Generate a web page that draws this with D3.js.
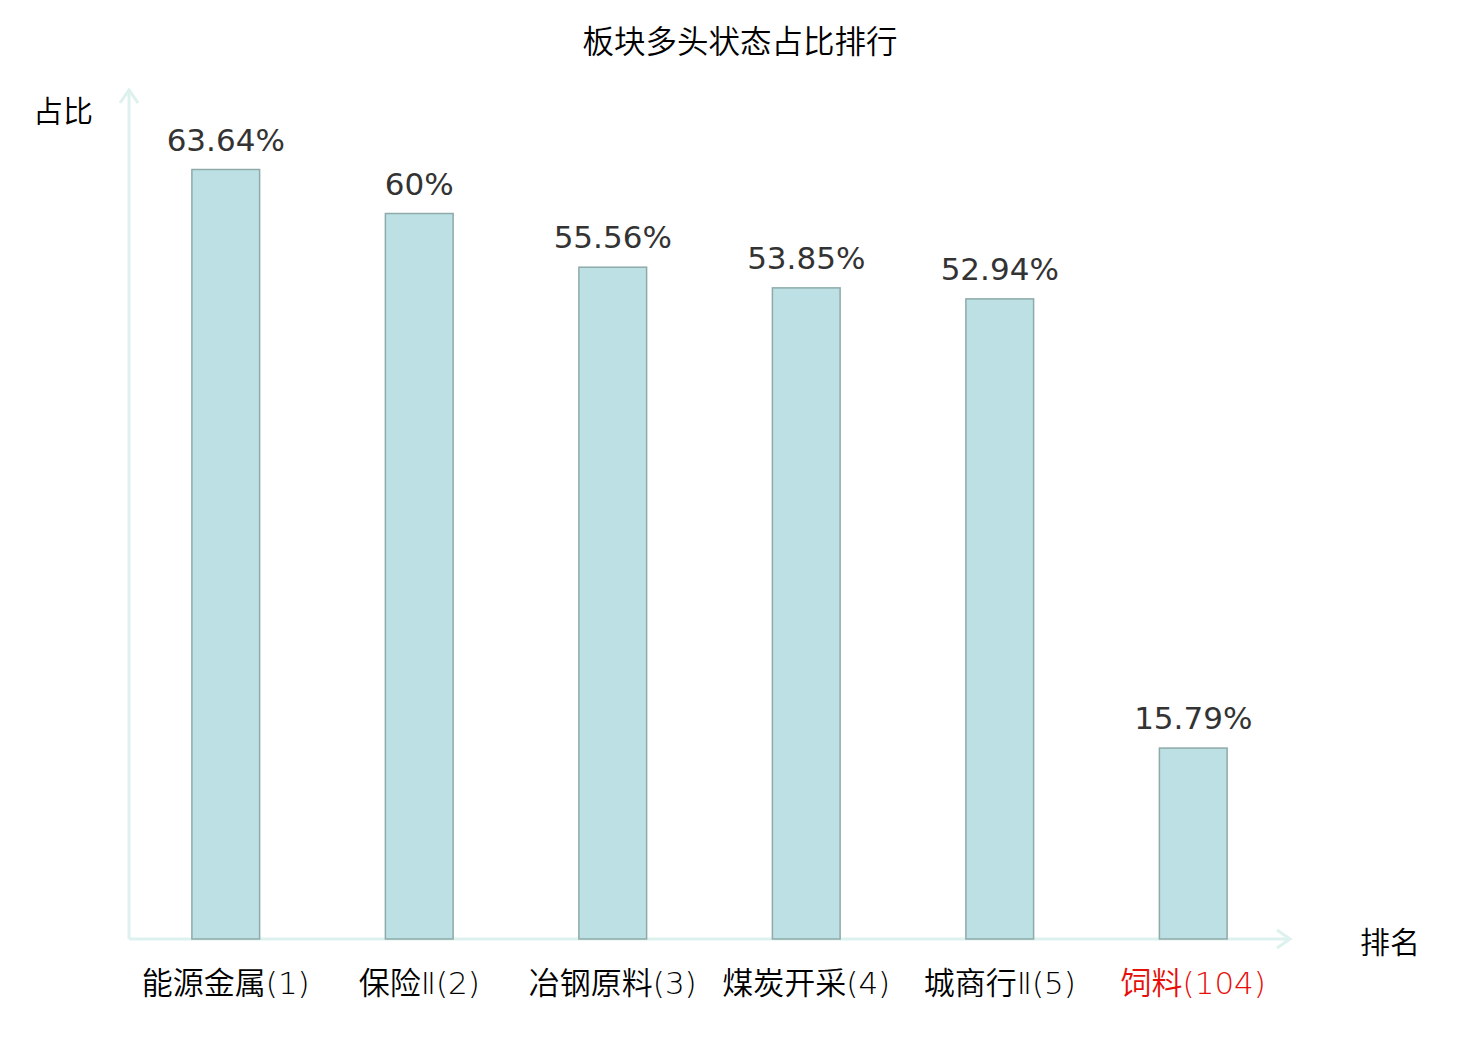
<!DOCTYPE html>
<html>
<head>
<meta charset="utf-8">
<script src="https://cdn.jsdelivr.net/npm/d3@7"></script>
<style>
  body { margin: 0; background: #fff; }
</style>
</head>
<body>
<script>
// 板块数据
var categories = ["能源金属(1)", "保险Ⅱ(2)", "冶钢原料(3)", "煤炭开采(4)", "城商行Ⅱ(5)", "饲料(104)"];
var values = [63.64, 60, 55.56, 53.85, 52.94, 15.79];
var valueLabels = ["63.64%", "60%", "55.56%", "53.85%", "52.94%", "15.79%"];
var highlight = [false, false, false, false, false, true];

var W = 1480, H = 1040;
var x0 = 129, x1 = 1290, yBase = 939;
var cjkWeight = 350;

var svg = d3.select("body").append("svg")
  .attr("width", W)
  .attr("height", H);

var x = d3.scaleBand()
  .domain(categories)
  .range([x0, x1])
  .paddingInner(0.65)
  .paddingOuter(0.325);

var y = d3.scaleLinear()
  .domain([0, 70])
  .range([yBase, 92.6]);

// 제목
svg.append("text")
  .attr("x", 740)
  .attr("y", 53)
  .attr("text-anchor", "middle")
  .attr("font-family", "Noto Sans CJK SC")
  .attr("font-weight", cjkWeight)
  .attr("font-size", "31.5px")
  .attr("fill", "#000")
  .text("板块多头状态占比排行");

// 축 (화살표)
var axisColor = "#ddf1ee";
svg.append("line")
  .attr("x1", x0).attr("y1", yBase)
  .attr("x2", x0).attr("y2", 90)
  .attr("stroke", axisColor).attr("stroke-width", 3);
svg.append("path")
  .attr("d", "M" + (x0 - 9) + "," + 103 + "L" + x0 + "," + 90 + "L" + (x0 + 9) + "," + 103)
  .attr("fill", "none").attr("stroke", axisColor).attr("stroke-width", 3);
svg.append("line")
  .attr("x1", x0).attr("y1", yBase)
  .attr("x2", x1).attr("y2", yBase)
  .attr("stroke", axisColor).attr("stroke-width", 3);
svg.append("path")
  .attr("d", "M" + (x1 - 13) + "," + (yBase - 9) + "L" + x1 + "," + yBase + "L" + (x1 - 13) + "," + (yBase + 9))
  .attr("fill", "none").attr("stroke", axisColor).attr("stroke-width", 3);

svg.append("text")
  .attr("x", 33).attr("y", 122)
  .attr("font-family", "Noto Sans CJK SC")
  .attr("font-weight", cjkWeight)
  .attr("font-size", "30px")
  .attr("fill", "#000")
  .text("占比");

svg.append("text")
  .attr("x", 1360).attr("y", 953)
  .attr("font-family", "Noto Sans CJK SC")
  .attr("font-weight", cjkWeight)
  .attr("font-size", "30px")
  .attr("fill", "#000")
  .text("排名");

// 막대
svg.selectAll("rect.bar")
  .data(values)
  .enter()
  .append("rect")
  .attr("class", "bar")
  .attr("x", function (d, i) { return x(categories[i]); })
  .attr("y", function (d) { return y(d); })
  .attr("width", x.bandwidth())
  .attr("height", function (d) { return yBase - y(d); })
  .attr("fill", "#bce0e3")
  .attr("stroke", "#8eaaa9")
  .attr("stroke-width", 1.5);

// 값 레이블
svg.selectAll("text.val")
  .data(values)
  .enter()
  .append("text")
  .attr("class", "val")
  .attr("x", function (d, i) { return x(categories[i]) + x.bandwidth() / 2; })
  .attr("y", function (d) { return y(d) - 19; })
  .attr("text-anchor", "middle")
  .attr("font-family", "DejaVu Sans")
  .attr("font-size", "31px")
  .attr("fill", "#333")
  .text(function (d, i) { return valueLabels[i]; });

// 카테고리 레이블 : 한자 부분 + Ⅱ + (순위) 부분
var cat = svg.selectAll("text.cat")
  .data(categories)
  .enter()
  .append("text")
  .attr("class", "cat")
  .attr("x", function (d) { return x(d) + x.bandwidth() / 2; })
  .attr("y", 994)
  .attr("text-anchor", "middle")
  .attr("font-size", "31px")
  .attr("fill", function (d, i) { return highlight[i] ? "#e60f0a" : "#000"; });

cat.append("tspan")
  .attr("font-family", "Noto Sans CJK SC")
  .attr("font-weight", cjkWeight)
  .text(function (d) { return d.slice(0, d.indexOf("(")).replace("Ⅱ", ""); });
cat.filter(function (d) { return d.indexOf("Ⅱ") >= 0; })
  .append("tspan")
  .attr("font-family", "DejaVu Sans")
  .attr("font-weight", 200)
  .text("Ⅱ");
cat.append("tspan")
  .attr("font-family", "DejaVu Sans")
  .attr("font-weight", 200)
  .text(function (d) { return d.slice(d.indexOf("(")); });
</script>
</body>
</html>
